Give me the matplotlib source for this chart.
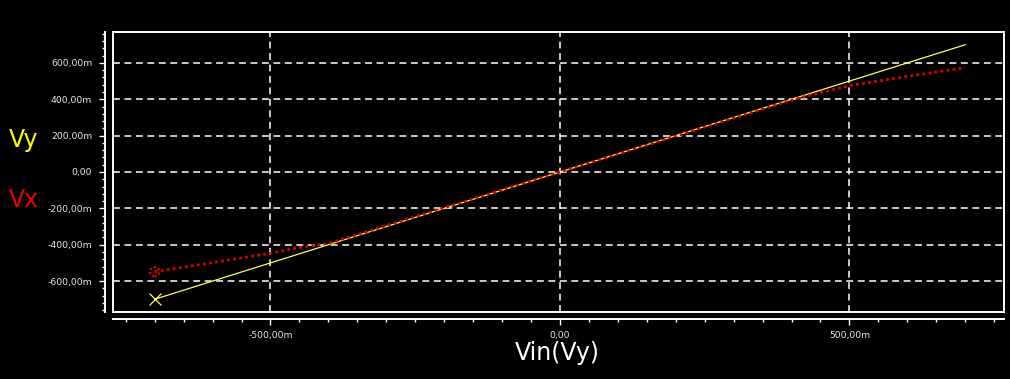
import matplotlib
matplotlib.use("Agg")
import matplotlib.pyplot as plt
from matplotlib.ticker import MultipleLocator, FuncFormatter

# Data (mV)
vin = [-700, -600, -500, -450, -400, 0, 400, 450, 500, 600, 700]
vy = [-700, -600, -500, -450, -400, 0, 400, 450, 500, 600, 700]
vx = [-549, -498, -447, -415, -393, 0, 395, 437, 475, 526, 574]

xlim = (-772, 767)
ylim = (-770, 770)
x_major = 500
x_minor = 50
y_major = 200
y_minor = 40

W, H = 1010, 379
fig = plt.figure(figsize=(W / 100, H / 100), dpi=100, facecolor="black")
rect = [113 / W, 1 - 312 / H, (1004 - 113) / W, (312 - 32) / H]

ax = fig.add_axes(rect, facecolor="black")
ax.set_xlim(*xlim)
ax.set_ylim(*ylim)
for s in ax.spines.values():
    s.set_color("white")
    s.set_linewidth(1.4)
ax.xaxis.set_major_locator(MultipleLocator(x_major))
ax.yaxis.set_major_locator(MultipleLocator(y_major))
ax.tick_params(length=0, labelbottom=False, labelleft=False)
ax.grid(True, color="white", linestyle=(0, (4.5, 3)), linewidth=1.1)

ax.plot(vin, vy, color="#ffff55", linewidth=0.9, zorder=3)
ax.plot(vin, vx, color="#dd0000", linewidth=2.0, linestyle=(0, (1, 1.2)), zorder=4)
ax.scatter([vin[0]], [vx[0]], s=45, facecolors="none", edgecolors="#dd0000",
           linewidths=1.6, linestyles=(0, (1, 1)), zorder=5)
ax.plot([vin[0]], [vy[0]], marker="x", markersize=8, color="#ffff55",
        markeredgewidth=0.9, linestyle="none", zorder=5)

# overlay axes for offset axis lines with ticks
ax2 = fig.add_axes(rect, sharex=ax, sharey=ax, facecolor="none")
ax2.set_zorder(-1)
ax2.patch.set_visible(False)
ax2.spines["top"].set_visible(False)
ax2.spines["right"].set_visible(False)
ax2.spines["left"].set_position(("outward", 6))
ax2.spines["bottom"].set_position(("outward", 5))
for k in ("left", "bottom"):
    ax2.spines[k].set_color("white")
    ax2.spines[k].set_linewidth(1.4)


def fmt(v, pos):
    if abs(v) < 1e-9:
        return "0,00"
    return ("%.2f" % v).replace(".", ",") + "m"


ax2.xaxis.set_major_locator(MultipleLocator(x_major))
ax2.xaxis.set_minor_locator(MultipleLocator(x_minor))
ax2.yaxis.set_major_locator(MultipleLocator(y_major))
ax2.yaxis.set_minor_locator(MultipleLocator(y_minor))
ax2.xaxis.set_major_formatter(FuncFormatter(fmt))
ax2.yaxis.set_major_formatter(FuncFormatter(fmt))
ax2.tick_params(which="major", direction="out", length=4, width=1, color="white",
                labelcolor="#e8e8e8", labelsize=6.7, pad=5)
ax2.tick_params(which="minor", direction="out", length=2.5, width=1, color="white")
ax2.set_xlim(*xlim)
ax2.set_ylim(*ylim)

fig.text(9 / W, 1 - 140 / H, "Vy", color="#ffff00", fontsize=17, ha="left", va="center")
fig.text(9 / W, 1 - 200 / H, "Vx", color="#ee0000", fontsize=17, ha="left", va="center")
fig.text(557 / W, 1 - 353 / H, "Vin(Vy)", color="white", fontsize=17, ha="center", va="center")

fig.savefig("out.png", dpi=100, facecolor="black")
